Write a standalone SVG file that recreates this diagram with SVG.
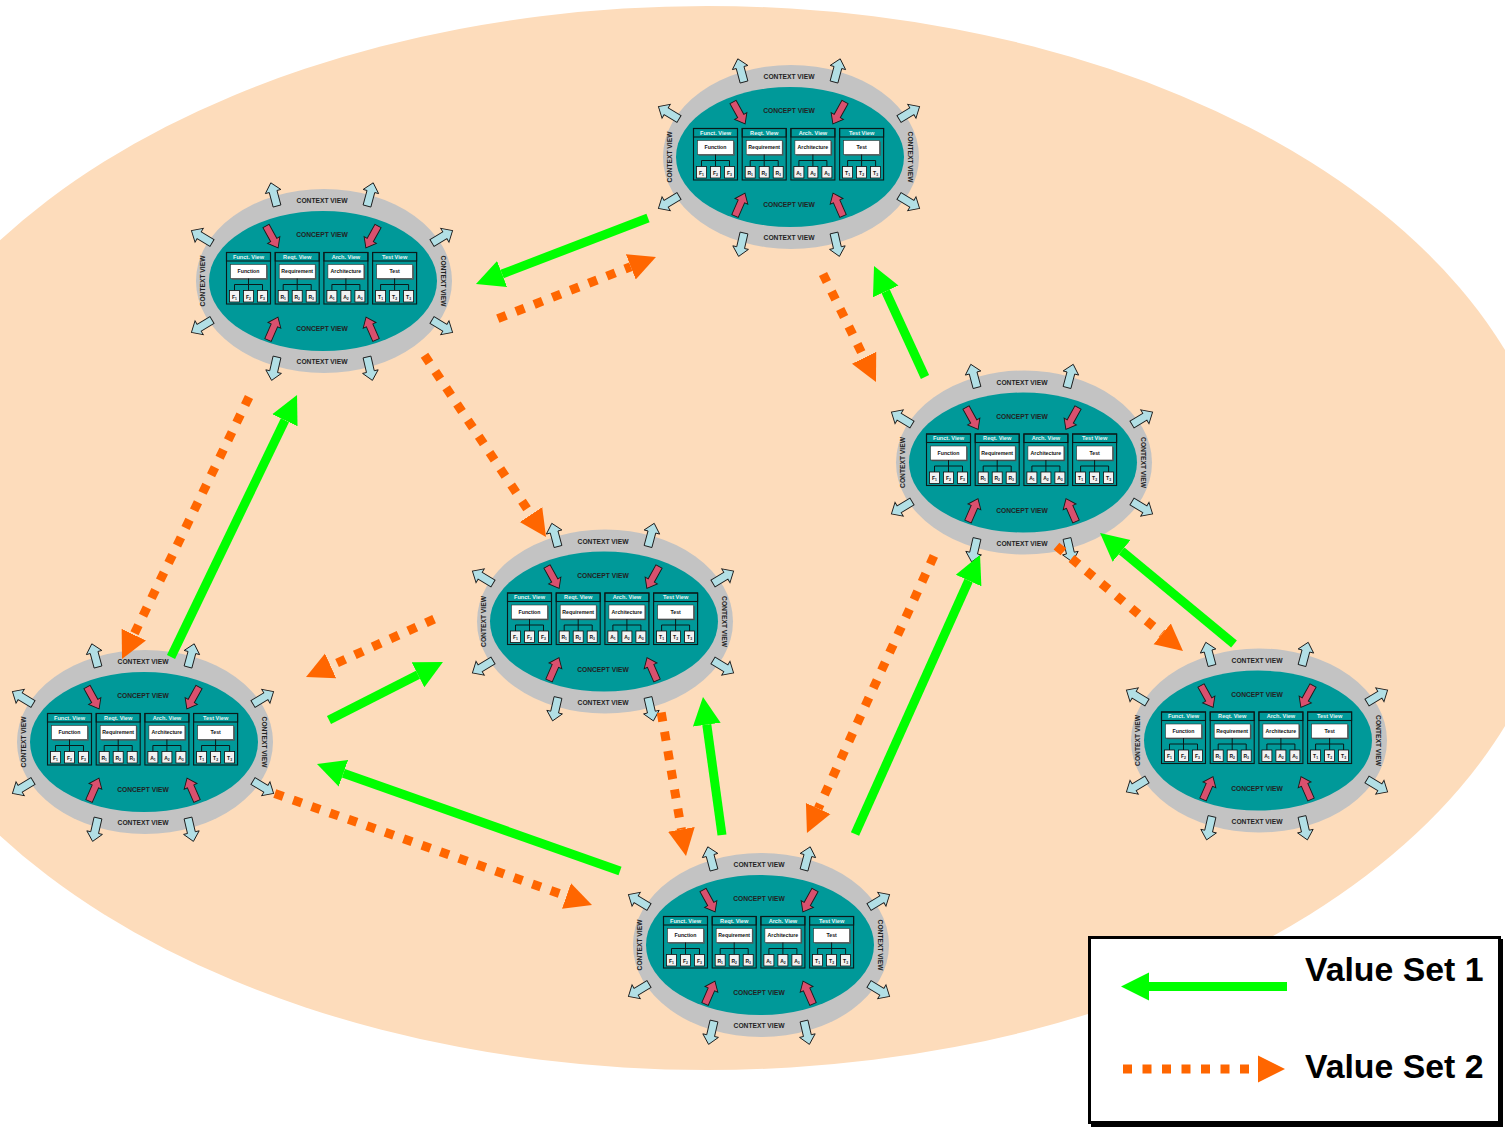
<svg xmlns="http://www.w3.org/2000/svg" xmlns:xlink="http://www.w3.org/1999/xlink" width="1505" height="1129" viewBox="0 0 1505 1129">
  <style>
    .ring { fill: #c3c3c3; }
    .core { fill: #009999; }
    .out { fill: #b2dfe5; stroke: #1a1a1a; stroke-width: 0.9; }
    .in { fill: #d9506e; stroke: #1a1a1a; stroke-width: 0.9; }
    .rt { font-family: "Liberation Sans", Arial, sans-serif; font-weight: bold; font-size: 6.7px; fill: #222; text-anchor: middle; }
    .pnl { fill: none; stroke: #0a1a1a; stroke-width: 1.1; }
    .ht { font-family: "Liberation Sans", Arial, sans-serif; font-weight: bold; font-size: 5.6px; fill: #e8f4f4; text-anchor: middle; }
    .shd { fill: #4a5a5a; }
    .lbl { fill: #ffffff; stroke: #333; stroke-width: 0.6; }
    .lt { font-family: "Liberation Sans", Arial, sans-serif; font-weight: bold; font-size: 5.2px; fill: #111; text-anchor: middle; }
    .tree { fill: none; stroke: #0a1a1a; stroke-width: 1; }
    .sb { fill: #f2f2f2; stroke: #111; stroke-width: 0.8; }
    .st { font-family: "Liberation Sans", Arial, sans-serif; font-weight: bold; font-size: 5px; fill: #111; text-anchor: middle; }
    .sub { font-size: 3.4px; }
    .g { stroke: #00ff00; stroke-width: 9; fill: none; marker-end: url(#hg); }
    .o { stroke: #ff6600; stroke-width: 9; fill: none; stroke-dasharray: 9 10.5; marker-end: url(#ho); }
    .leg { font-family: "Liberation Sans", Arial, sans-serif; font-weight: bold; font-size: 33.8px; fill: #000; }
  </style>
  <defs>
    <marker id="hg" markerUnits="userSpaceOnUse" markerWidth="30" markerHeight="30" viewBox="0 -15 30 30" refX="0" refY="0" orient="auto">
      <path d="M0,-14 L28,0 L0,14 Z" fill="#00ff00"/>
    </marker>
    <marker id="ho" markerUnits="userSpaceOnUse" markerWidth="30" markerHeight="30" viewBox="0 -15 30 30" refX="0" refY="0" orient="auto">
      <path d="M0,-13.5 L27,0 L0,13.5 Z" fill="#ff6600"/>
    </marker>
    <!-- block arrows, pointing along +x from their base -->
    <path id="outArrow" class="out" d="M0,-4 L15,-4 L15,-8 L24,0 L15,8 L15,4 L0,4 Z"/>
    <path id="inArrow" class="in" d="M0,-3.5 L16,-3.5 L16,-7 L25,0 L16,7 L16,3.5 L0,3.5 Z"/>
    <path id="tree" class="tree" d="M22,-2.5 V3.5 M8,9.5 V3.5 H36 V9.5 M22,3.5 V9.5"/>
    <g id="frame">
      <rect class="pnl" x="0" y="-28.5" width="44" height="51.5"/>
      <rect class="pnl" x="0" y="-28.5" width="44" height="8.5"/>
      <rect class="shd" x="5.2" y="-15.3" width="36" height="14"/>
      <rect class="lbl" x="4" y="-16.5" width="36" height="14"/>
      <use href="#tree"/>
      <rect class="sb" x="3" y="9.5" width="10" height="11.5"/>
      <rect class="sb" x="17" y="9.5" width="10" height="11.5"/>
      <rect class="sb" x="31" y="9.5" width="10" height="11.5"/>
    </g>
    <!-- one view-model node, centred on 0,0 -->
    <g id="node">
      <ellipse class="ring" cx="2" cy="0" rx="128" ry="92"/>
      <ellipse class="core" cx="1" cy="0" rx="114" ry="70"/>
      <use href="#outArrow" transform="translate(-45,-75) rotate(-105)"/>
      <use href="#outArrow" transform="translate(45,-75) rotate(-75)"/>
      <use href="#outArrow" transform="translate(-110,-38) rotate(-149)"/>
      <use href="#outArrow" transform="translate(110,-38) rotate(-31)"/>
      <use href="#outArrow" transform="translate(-110,39) rotate(149)"/>
      <use href="#outArrow" transform="translate(110,39) rotate(31)"/>
      <use href="#outArrow" transform="translate(-45,76) rotate(103)"/>
      <use href="#outArrow" transform="translate(45,76) rotate(77)"/>
      <use href="#inArrow" transform="translate(-56,-55) rotate(61)"/>
      <use href="#inArrow" transform="translate(56,-55) rotate(119)"/>
      <use href="#inArrow" transform="translate(-54,59) rotate(-66.5)"/>
      <use href="#inArrow" transform="translate(54,59) rotate(-113.5)"/>
      <text class="rt" x="0" y="-78">CONTEXT VIEW</text>
      <text class="rt" x="0" y="-44">CONCEPT VIEW</text>
      <text class="rt" x="0" y="50">CONCEPT VIEW</text>
      <text class="rt" x="0" y="83">CONTEXT VIEW</text>
      <text class="rt" transform="translate(-116.6,0) rotate(-90)">CONTEXT VIEW</text>
      <text class="rt" transform="translate(118.6,0) rotate(90)">CONTEXT VIEW</text>
      <g transform="translate(-95.5,0)">
        <use href="#frame"/>
        <text class="ht" x="22" y="-22.3">Funct. View</text>
        <text class="lt" x="22" y="-7.6">Function</text>
        <text class="st" x="8" y="17.5">F<tspan class="sub" dy="1">1</tspan></text>
        <text class="st" x="22" y="17.5">F<tspan class="sub" dy="1">2</tspan></text>
        <text class="st" x="36" y="17.5">F<tspan class="sub" dy="1">3</tspan></text>
      </g>
      <g transform="translate(-46.8,0)">
        <use href="#frame"/>
        <text class="ht" x="22" y="-22.3">Reqt. View</text>
        <text class="lt" x="22" y="-7.6">Requirement</text>
        <text class="st" x="8" y="17.5">R<tspan class="sub" dy="1">1</tspan></text>
        <text class="st" x="22" y="17.5">R<tspan class="sub" dy="1">2</tspan></text>
        <text class="st" x="36" y="17.5">R<tspan class="sub" dy="1">3</tspan></text>
      </g>
      <g transform="translate(1.9,0)">
        <use href="#frame"/>
        <text class="ht" x="22" y="-22.3">Arch. View</text>
        <text class="lt" x="22" y="-7.6">Architecture</text>
        <text class="st" x="8" y="17.5">A<tspan class="sub" dy="1">1</tspan></text>
        <text class="st" x="22" y="17.5">A<tspan class="sub" dy="1">2</tspan></text>
        <text class="st" x="36" y="17.5">A<tspan class="sub" dy="1">3</tspan></text>
      </g>
      <g transform="translate(50.6,0)">
        <use href="#frame"/>
        <text class="ht" x="22" y="-22.3">Test View</text>
        <text class="lt" x="22" y="-7.6">Test</text>
        <text class="st" x="8" y="17.5">T<tspan class="sub" dy="1">1</tspan></text>
        <text class="st" x="22" y="17.5">T<tspan class="sub" dy="1">2</tspan></text>
        <text class="st" x="36" y="17.5">T<tspan class="sub" dy="1">3</tspan></text>
      </g>
    </g>
  </defs>

  <rect x="0" y="0" width="1505" height="1129" fill="#ffffff"/>
  <ellipse cx="707" cy="538" rx="853" ry="532" fill="#fddcbb"/>

  <g id="nodes">
    <g id="node-top" transform="translate(789,157)"><use href="#node"/></g>
    <g id="node-upper-left" transform="translate(322,281)"><use href="#node"/></g>
    <g id="node-right" transform="translate(1022,462.5)"><use href="#node"/></g>
    <g id="node-middle" transform="translate(603,621.5)"><use href="#node"/></g>
    <g id="node-left" transform="translate(143,742)"><use href="#node"/></g>
    <g id="node-lower-right" transform="translate(1257,740.5)"><use href="#node"/></g>
    <g id="node-bottom" transform="translate(759,945)"><use href="#node"/></g>
  </g>

  <g id="connectors">
    <!-- value set 1 -->
    <line class="g" x1="648" y1="218" x2="502.1" y2="274"/>
    <line class="g" x1="925" y1="377" x2="885.7" y2="291.4"/>
    <line class="g" x1="171" y1="657" x2="284.9" y2="420.2"/>
    <line class="g" x1="329" y1="720" x2="418" y2="674.7"/>
    <line class="g" x1="620" y1="871" x2="343.4" y2="773.3"/>
    <line class="g" x1="722" y1="835" x2="706.8" y2="724.7"/>
    <line class="g" x1="855" y1="834" x2="968.6" y2="580.6"/>
    <line class="g" x1="1234" y1="644" x2="1121.6" y2="550.9"/>
    <!-- value set 2 -->
    <line class="o" x1="497.8" y1="318.6" x2="630.8" y2="266.8"/>
    <line class="o" x1="823" y1="274" x2="864.1" y2="357.8"/>
    <line class="o" x1="249" y1="397" x2="133.8" y2="634.7"/>
    <line class="o" x1="424.5" y1="355.3" x2="531" y2="514.6"/>
    <line class="o" x1="434.1" y1="619.1" x2="330.6" y2="665.9"/>
    <line class="o" x1="661.2" y1="712.6" x2="681.4" y2="829.4"/>
    <line class="o" x1="274.8" y1="793.5" x2="566.5" y2="896"/>
    <line class="o" x1="933.9" y1="555.9" x2="818.2" y2="808.5"/>
    <line class="o" x1="1056.5" y1="546.1" x2="1162.2" y2="633.8"/>
  </g>

  <g id="legend">
    <rect x="1091" y="939" width="412" height="188" fill="#000"/>
    <rect x="1089.5" y="937.5" width="410" height="185" fill="#fff" stroke="#000" stroke-width="3"/>
    <line class="g" x1="1287" y1="986.5" x2="1149" y2="986.5"/>
    <text class="leg" x="1305" y="981">Value Set 1</text>
    <line class="o" x1="1123" y1="1069" x2="1258" y2="1069"/>
    <text class="leg" x="1305" y="1078">Value Set 2</text>
  </g>
</svg>
